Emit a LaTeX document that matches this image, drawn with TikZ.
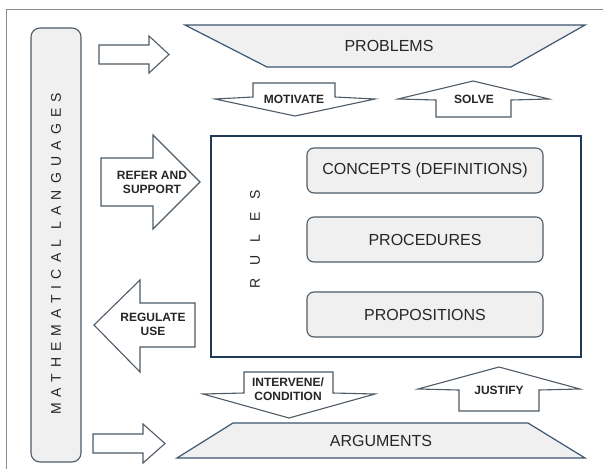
\documentclass[tikz,border=0pt]{standalone}
\usepackage{fontspec}
\setmainfont{Liberation Sans}
\newfontfamily\spacedfont[LetterSpace=44]{Liberation Sans}
\newfontfamily\rulesfont[LetterSpace=92]{Liberation Sans}
\definecolor{framegray}{HTML}{8A8A8A}
\definecolor{fillgray}{HTML}{F0F0F0}
\definecolor{edgeslate}{HTML}{4F5B66}
\definecolor{navyedge}{HTML}{1F3A56}
\definecolor{trapedge}{HTML}{3E5670}
\definecolor{textgray}{HTML}{262626}
\begin{document}
\begin{tikzpicture}[x=1pt,y=-1pt,
  arrowshape/.style={draw=edgeslate, fill=white, line width=1.1pt, line join=miter},
  trap/.style={draw=trapedge, fill=fillgray, line width=1.2pt},
  lbl/.style={font=\fontsize{12}{14}\selectfont\bfseries, text=textgray, align=center, inner sep=0pt},
  bigtxt/.style={font=\fontsize{16}{18}\selectfont, text=textgray, inner sep=0pt},
  rulebox/.style={draw=edgeslate, fill=fillgray, line width=1.1pt, rounded corners=7pt,
    minimum width=236pt, minimum height=45pt, font=\fontsize{16}{18}\selectfont, text=textgray}
]
\useasboundingbox (0,0) rectangle (603,469);
% outer frame
\draw[framegray, line width=0.8pt] (6.5,470) -- (6.5,9) -- (604,9);

% mathematical languages bar
\draw[draw=edgeslate, fill=fillgray, line width=1.1pt, rounded corners=9pt] (31,28) rectangle (81,462);
\node[rotate=90, font={\fontsize{14}{14}\selectfont\spacedfont}, text=textgray, inner sep=0pt] (lang) at (56,254) {MATHEMATICAL LANGUAGES};

% arrows from the bar
\draw[arrowshape] (99,45) -- (149,45) -- (149,36) -- (169,54.5) -- (149,73) -- (149,64) -- (99,64) -- cycle;
\draw[arrowshape] (93,434) -- (143,434) -- (143,424) -- (165,443.5) -- (143,463) -- (143,453) -- (93,453) -- cycle;

% refer and support
\draw[arrowshape] (101,158) -- (153,158) -- (153,135) -- (200,182) -- (153,229) -- (153,206) -- (101,206) -- cycle;
\node[lbl] (refer) at (152,182) {REFER AND\\SUPPORT};

% regulate use
\draw[arrowshape] (94,325) -- (140,280) -- (140,303) -- (195,303) -- (195,347) -- (140,347) -- (140,372) -- cycle;
\node[lbl] (regulate) at (153,324) {REGULATE\\USE};

% problems
\draw[trap] (185,25) -- (585,25) -- (511,67) -- (267,67) -- cycle;
\node[bigtxt] (problems) at (389,46) {PROBLEMS};

% arguments
\draw[trap] (233,423) -- (528,423) -- (585,458) -- (177,458) -- cycle;
\node[bigtxt] (arguments) at (381,441) {ARGUMENTS};

% motivate
\draw[arrowshape] (253,83) -- (335,83) -- (335,97) -- (375,99) -- (295,116) -- (215,99) -- (253,97) -- cycle;
\node[lbl] (motivate) at (294,99) {MOTIVATE};

% solve
\draw[arrowshape] (473,81) -- (549,99) -- (511,100) -- (511,117) -- (436,117) -- (436,100) -- (398,99) -- cycle;
\node[lbl] (solve) at (474,99) {SOLVE};

% intervene / condition
\draw[arrowshape] (244,372) -- (333,372) -- (333,393) -- (375,394) -- (289,418) -- (203,394) -- (244,393) -- cycle;
\node[lbl] (intervene) at (288,389) {INTERVENE/\\CONDITION};

% justify
\draw[arrowshape] (499,367) -- (580,389) -- (539,390) -- (539,411) -- (459,411) -- (459,390) -- (418,389) -- cycle;
\node[lbl] (justify) at (499,390) {JUSTIFY};

% rules box
\draw[navyedge, line width=2pt, fill=white] (211,136) rectangle (581,357);
\node[rotate=90, font={\fontsize{14}{14}\selectfont\rulesfont}, text=textgray, inner sep=0pt] (rules) at (255,239) {RULES};
\node[rulebox] (concepts) at (425,170.5) {CONCEPTS (DEFINITIONS)};
\node[rulebox] (procedures) at (425,239.5) {PROCEDURES};
\node[rulebox] (propositions) at (425,314.5) {PROPOSITIONS};
\end{tikzpicture}
\end{document}
